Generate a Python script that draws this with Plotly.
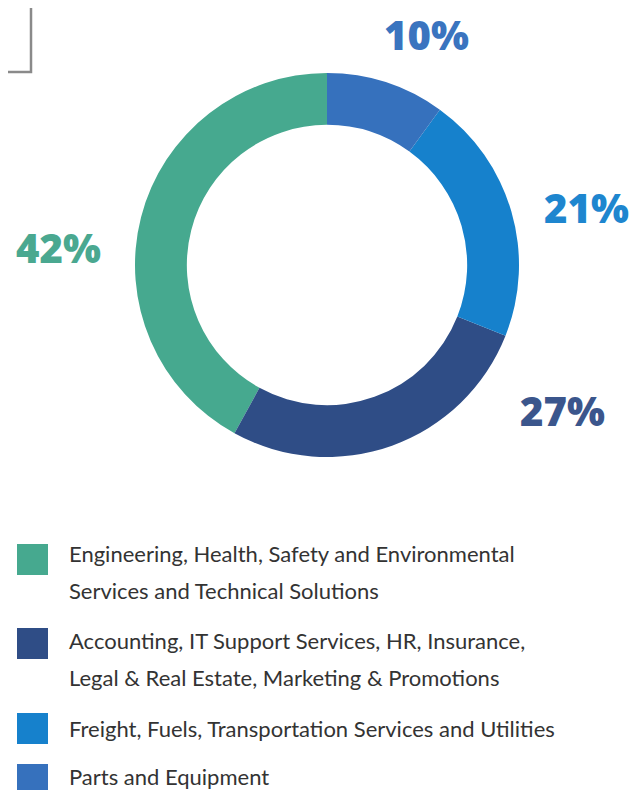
import plotly.graph_objects as go

categories = [
    "Engineering, Health, Safety and Environmental<br>Services and Technical Solutions",
    "Accounting, IT Support Services, HR, Insurance,<br>Legal & Real Estate, Marketing & Promotions",
    "Freight, Fuels, Transportation Services and Utilities",
    "Parts and Equipment",
]
values = [42, 27, 21, 10]
slice_colors = ["#46a98f", "#2f4d86", "#1681cc", "#3671bd"]
label_colors = ["#4aa890", "#3b568c", "#1e86cf", "#3a74bf"]

OFF = 8  # page body margin
W, H = 637 - OFF, 790 - OFF
cx, cy, R = 327, 265, 192


def px(x):
    return (x - OFF) / W


def py(y):
    return 1 - (y - OFF) / H


# counterclockwise from 12 o'clock, first slice (Engineering) on the left
first_share = values[0] / sum(values) * 360

fig = go.Figure()
fig.add_trace(go.Pie(
    labels=[c.replace("<br>", " ") for c in categories],
    values=values,
    hole=0.73,
    sort=False,
    direction="counterclockwise",
    rotation=-first_share,
    marker=dict(colors=slice_colors, line=dict(width=0)),
    textinfo="none",
    hoverinfo="label+percent",
    showlegend=False,
    domain=dict(x=[px(cx - R), px(cx + R)], y=[py(cy + R), py(cy - R)]),
))

# percentage labels (positions are layout)
label_pos = [(58, 248), (562, 410), (586, 208), (426, 35)]
annotations = []
for v, c, (x, y) in zip(values, label_colors, label_pos):
    annotations.append(dict(
        x=px(x), y=py(y), xref="paper", yref="paper",
        text=f"{v}%", showarrow=False,
        font=dict(family="Open Sans", size=40, color=c, weight=800),
        xanchor="center", yanchor="middle",
    ))

# custom legend: (first text line centre y, square top y)
legend_rows = [(553, 544), (640, 628), (728, 713), (776, 764)]
LINE_GAP = 37
shapes = []
for cat, col, (ty, sy) in zip(categories, slice_colors, legend_rows):
    shapes.append(dict(
        type="rect", xref="paper", yref="paper",
        x0=px(17), x1=px(48), y0=py(sy), y1=py(sy + 31),
        fillcolor=col, line=dict(width=0),
    ))
    for i, line in enumerate(cat.split("<br>")):
        annotations.append(dict(
            x=px(67), y=py(ty + i * LINE_GAP), xref="paper", yref="paper",
            text=line, showarrow=False, align="left",
            font=dict(family="Lato", size=22, color="#333333"),
            xanchor="left", yanchor="middle",
        ))

# partial box in top-left corner
shapes.append(dict(
    type="path", xref="paper", yref="paper",
    path=f"M {px(-5)} {py(72)} L {px(31)} {py(72)} L {px(31)} {py(-5)}",
    line=dict(color="#8a8a8a", width=2.5),
))

fig.update_layout(
    width=W, height=H,
    margin=dict(l=0, r=0, t=0, b=0),
    paper_bgcolor="white",
    plot_bgcolor="white",
    annotations=annotations,
    shapes=shapes,
    showlegend=False,
)

fig.write_html("out.html")
